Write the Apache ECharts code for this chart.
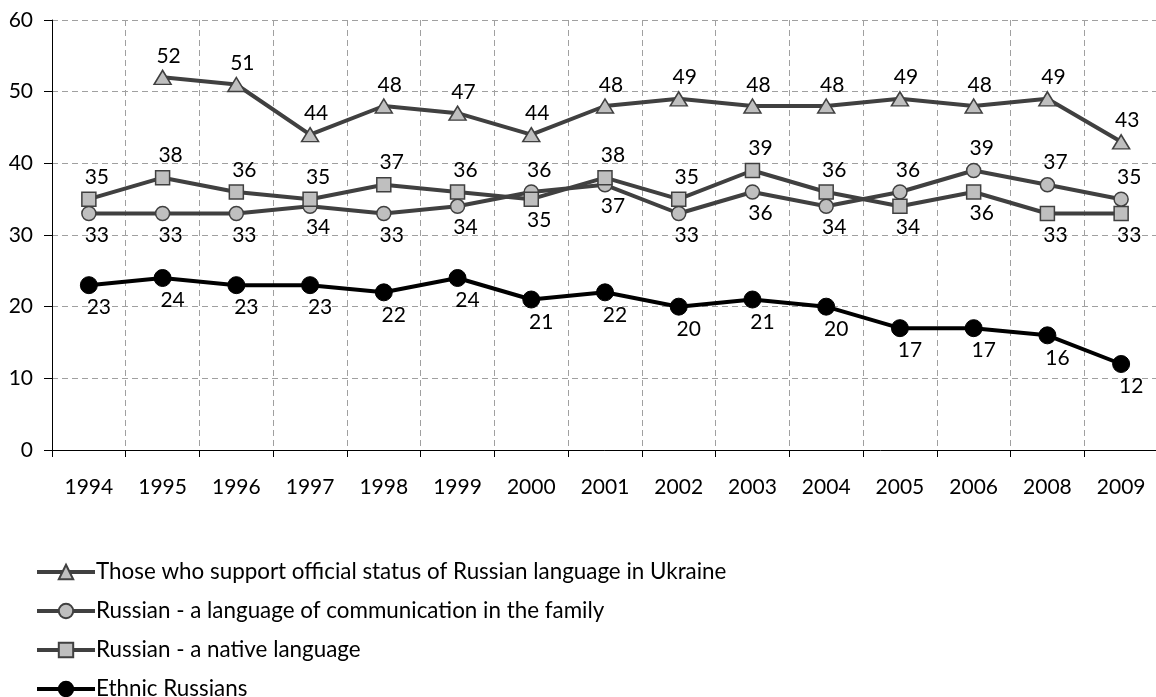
<!DOCTYPE html>
<html>
<head>
<meta charset="utf-8">
<script src="https://cdn.jsdelivr.net/npm/echarts@6/dist/echarts.min.js"></script>
<style>
	html, body { margin: 0; padding: 0; background: #fff; }
	#chart { width: 1156px; height: 697px; }
</style>
</head>
<body>
<div id="chart"></div>
<script>
//   years on the x axis
var years = ['1994', '1995', '1996', '1997', '1998', '1999', '2000', '2001', '2002', '2003', '2004', '2005', '2006', '2008', '2009'];

//   series
var supportOfficial = [null, 52, 51, 44, 48, 47, 44, 48, 49, 48, 48, 49, 48, 49, 43];
var familyLanguage = [33, 33, 33, 34, 33, 34, 36, 37, 33, 36, 34, 36, 39, 37, 35];
var nativeLanguage = [35, 38, 36, 35, 37, 36, 35, 38, 35, 39, 36, 34, 36, 33, 33];
var ethnicRussians = [23, 24, 23, 23, 22, 24, 21, 22, 20, 21, 20, 17, 17, 16, 12];

//   legend names
var names = [
	'Those who support official status of Russian language in Ukraine',
	'Russian - a language of communication in the family',
	'Russian - a native language',
	'Ethnic Russians'
];

var font = 'Lato, "Open Sans", sans-serif';
var dark = '#404040';
var fill = '#bfbfbf';

//   label above or below, the upper of the two middle lines gets its label on top
var labelAbove = { position: 'top', distance: 4, offset: [8, 0] };
var labelBelow = { position: 'bottom', distance: 2, offset: [8, 1] };

var pairData = function (values, other, upper) {
	var out = [];
	for (var i = 0; i < values.length; i++) {
		var above = upper ? values[i] > other[i] : values[i] >= other[i];
		out.push({ value: values[i], label: above ? labelAbove : labelBelow });
	}
	return out;
};

var baseLabel = {
	show: true,
	color: '#000',
	fontFamily: font,
	fontSize: 21
};

var chart = echarts.init(document.getElementById('chart'));

var option = {
	animation: false,
	backgroundColor: '#fff',
	grid: {
		left: 52,
		top: 20,
		width: 1106,
		height: 430,
		containLabel: false,
		outerBoundsMode: 'none'
	},
	legend: {
		orient: 'vertical',
		left: 35,
		top: 561,
		height: 220,
		padding: 0,
		itemWidth: 58,
		itemHeight: 18,
		itemGap: 17,
		lineStyle: { width: 4 },
		textStyle: { color: '#000', fontFamily: font, fontSize: 22.4, lineHeight: 21, padding: [0, 0, 0, -4] },
		data: names
	},
	xAxis: {
		type: 'category',
		data: years,
		boundaryGap: true,
		axisLine: { lineStyle: { color: '#000', width: 1 } },
		axisTick: { show: true, length: 7, interval: 0, lineStyle: { color: '#000' } },
		axisLabel: { color: '#000', fontFamily: font, fontSize: 21, margin: 27, interval: 0 },
		splitLine: { show: true, interval: 0, lineStyle: { color: '#a0a0a0', type: [6, 4], width: 1 } }
	},
	yAxis: {
		type: 'value',
		min: 0,
		max: 60,
		interval: 10,
		axisLine: { show: true, lineStyle: { color: '#000', width: 1 } },
		axisTick: { show: true, length: 8, lineStyle: { color: '#000' } },
		axisLabel: { color: '#000', fontFamily: font, fontSize: 21, margin: 19 },
		splitLine: { show: true, lineStyle: { color: '#a0a0a0', type: [6, 4], width: 1 } }
	},
	series: [
		{
			name: names[0],
			type: 'line',
			data: supportOfficial,
			symbol: 'triangle',
			symbolSize: [17, 14],
			lineStyle: { color: dark, width: 4 },
			itemStyle: { color: fill, borderColor: dark, borderWidth: 1.5 },
			label: Object.assign({}, baseLabel, { position: 'top', distance: 5, offset: [6, 2] }),
			z: 2
		},
		{
			name: names[1],
			type: 'line',
			data: pairData(familyLanguage, nativeLanguage, true),
			symbol: 'circle',
			symbolSize: 14,
			lineStyle: { color: dark, width: 4 },
			itemStyle: { color: fill, borderColor: dark, borderWidth: 1.5 },
			label: baseLabel,
			z: 3
		},
		{
			name: names[2],
			type: 'line',
			data: pairData(nativeLanguage, familyLanguage, false),
			symbol: 'rect',
			symbolSize: 14,
			lineStyle: { color: dark, width: 4 },
			itemStyle: { color: fill, borderColor: dark, borderWidth: 1.5 },
			label: baseLabel,
			z: 4
		},
		{
			name: names[3],
			type: 'line',
			data: ethnicRussians,
			symbol: 'circle',
			symbolSize: 17,
			lineStyle: { color: '#000', width: 4 },
			itemStyle: { color: '#000', borderColor: '#000', borderWidth: 1 },
			label: Object.assign({}, baseLabel, { position: 'bottom', distance: 3, offset: [10, 0] }),
			z: 5
		}
	]
};

chart.setOption(option);
</script>
</body>
</html>
